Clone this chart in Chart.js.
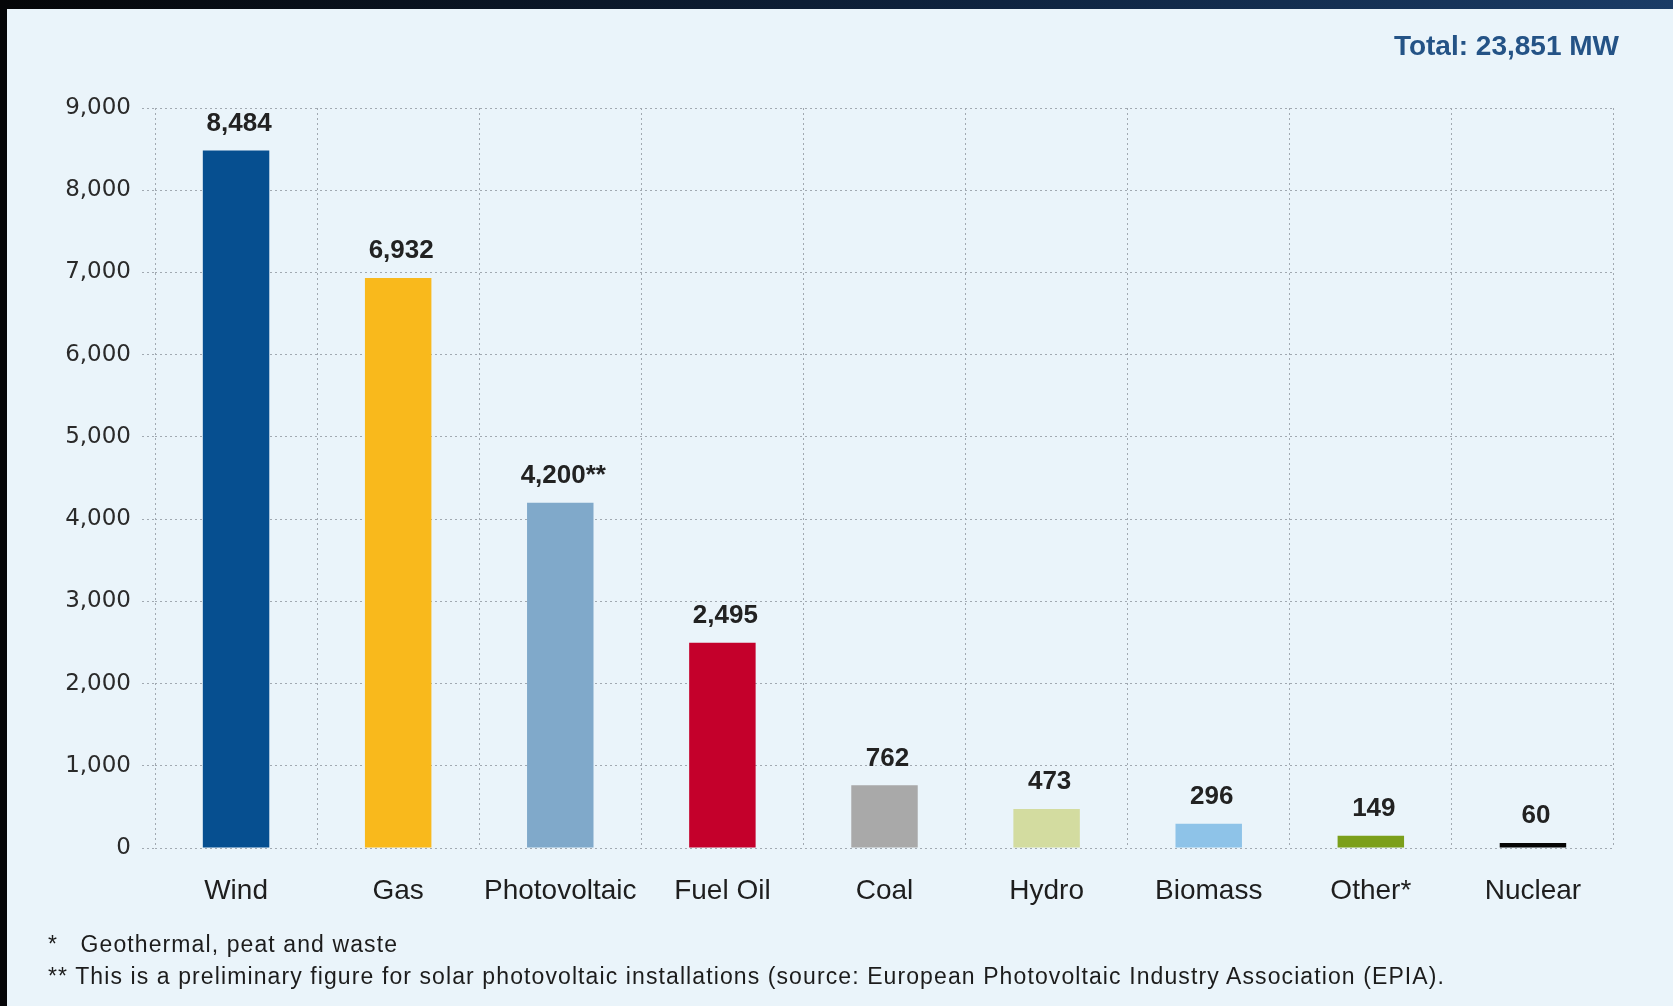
<!DOCTYPE html>
<html>
<head>
<meta charset="utf-8">
<script src="https://cdn.jsdelivr.net/npm/chart.js@4.4.1/dist/chart.umd.min.js"></script>
<style>
  html, body { margin: 0; padding: 0; }
  body {
    width: 1673px; height: 1006px; overflow: hidden;
    background: linear-gradient(90deg, #050608 0%, #0f2440 60%, #1b3c66 100%);
    position: relative;
    font-family: "Liberation Sans", Arial, sans-serif;
  }
  #panel {
    position: absolute; left: 7px; top: 9px; right: 0; bottom: 0;
    background: #eaf4fa;
  }
  #chart { position: absolute; left: 0; top: 0; }
  .total {
    position: absolute; right: 54px; top: 30px;
    font-weight: bold; font-size: 28px; color: #245386;
  }
  .note {
    position: absolute; left: 48px;
    font-size: 23px; color: #1c1c1c; letter-spacing: 1.1px;
  }
</style>
</head>
<body>
<div id="panel"></div>
<canvas id="chart" width="1673" height="1006"></canvas>
<div class="total">Total: 23,851 MW</div>
<div class="note" style="top:931px">*&nbsp;&nbsp; Geothermal, peat and waste</div>
<div class="note" style="top:963px">** This is a preliminary figure for solar photovoltaic installations (source: European Photovoltaic Industry Association (EPIA).</div>
<script>
   // new capacity installed, MW
   var categories = ['Wind', 'Gas', 'Photovoltaic', 'Fuel Oil', 'Coal', 'Hydro', 'Biomass', 'Other*', 'Nuclear'];
   var capacity = [8484, 6932, 4200, 2495, 762, 473, 296, 149, 60];
   var valueNotes = ['', '', '**', '', '', '', '', '', ''];
   var barColors = ['#064f90', '#f9b91c', '#80a9ca', '#c4002b', '#a9a9a9', '#d3dca0', '#8ec3e8', '#7b9f1b', '#050505'];
   var yTicks = [0, 1000, 2000, 3000, 4000, 5000, 6000, 7000, 8000, 9000];

   var valueLabels = {
      id: 'valueLabels',
      afterDatasetsDraw: function(chart) {
         var ctx = chart.ctx;
         var meta = chart.getDatasetMeta(0);
         ctx.save();
         ctx.font = 'bold 26px "Liberation Sans", Arial, sans-serif';
         ctx.fillStyle = '#222';
         ctx.textAlign = 'center';
         ctx.textBaseline = 'middle';
         meta.data.forEach(function(bar, i) {
            var txt = capacity[i].toLocaleString('en-US') + valueNotes[i];
            ctx.fillText(txt, bar.x + 3, bar.y - 27);
         });
         ctx.restore();
      }
   };

   var ctx = document.getElementById('chart').getContext('2d');
   const capacity_chart = new Chart(ctx, {
      type: 'bar',
      data: {
         labels: categories,
         datasets: [
            {
               label: 'MW',
               data: capacity,
               backgroundColor: barColors,
               borderWidth: 0,
               categoryPercentage: 1.0,
               barPercentage: 0.41
            }
         ]
      },
      options: {
         responsive: false,
         animation: false,
         layout: { padding: { left: 0, right: 59, top: 108, bottom: 78 } },
         plugins: { legend: { display: false }, tooltip: { enabled: false } },
         scales: {
            x: {
               border: { display: false, dash: [2, 3] },
               grid: {
                  offset: true,
                  color: '#a1a9b1',
                  drawTicks: false
               },
               ticks: {
                  padding: 26,
                  color: '#1e1e1e',
                  font: { family: '"Liberation Sans", Arial, sans-serif', size: 28 }
               },
               afterFit: function(scale) { scale.height = 80; }
            },
            y: {
               min: 0,
               max: 9000,
               border: { display: false, dash: [2, 3] },
               grid: {
                  color: '#a1a9b1',
                  tickLength: 13,
                  tickColor: '#a1a9b1',
                  tickBorderDash: [2, 3]
               },
               afterBuildTicks: function(scale) {
                  scale.ticks = yTicks.map(function(v) { return { value: v }; });
               },
               ticks: {
                  padding: 11,
                  color: '#2a2a2a',
                  font: { family: '"DejaVu Sans", Verdana, sans-serif', size: 23 },
                  callback: function(v) { return v.toLocaleString('en-US'); }
               },
               afterFit: function(scale) { scale.width = 155; }
            }
         }
      },
      plugins: [valueLabels]
   });
</script>
</body>
</html>
